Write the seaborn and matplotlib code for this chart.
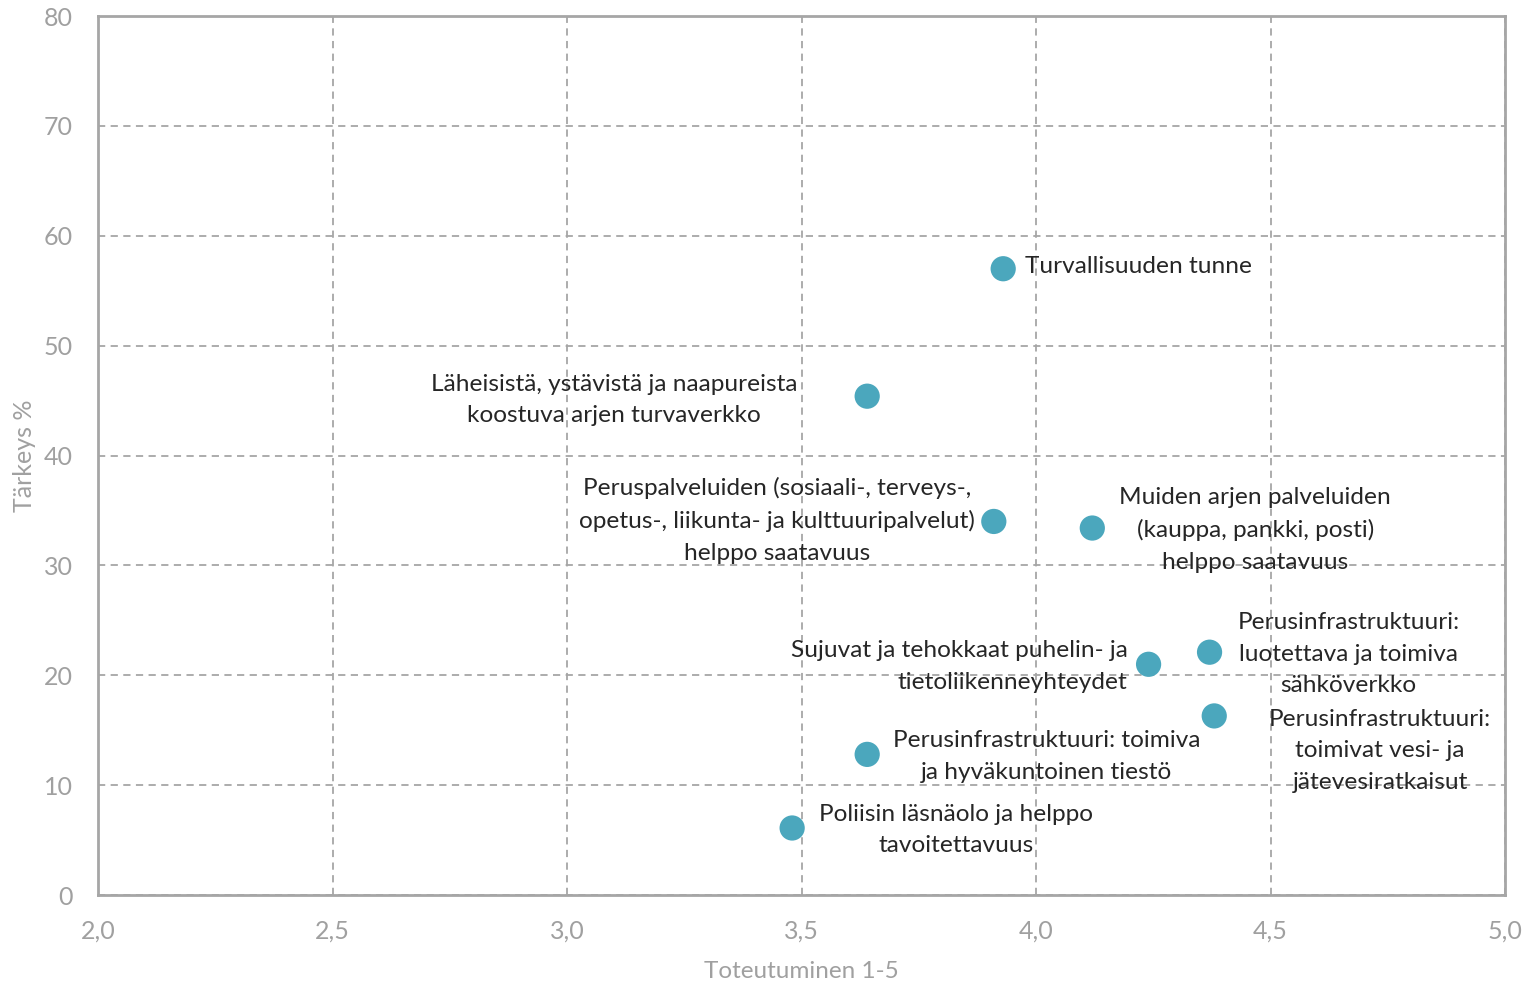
import pandas as pd
import matplotlib.pyplot as plt
import seaborn as sns

# arvot luettu kuvasta
toteutuminen = [3.93, 3.64, 3.91, 4.12, 4.37, 4.24, 4.38, 3.64, 3.48]
tarkeys = [57.0, 45.4, 34.0, 33.4, 22.1, 21.0, 16.3, 12.8, 6.1]
nimet = [
    "Turvallisuuden tunne",
    "Läheisistä, ystävistä ja naapureista\nkoostuva arjen turvaverkko",
    "Peruspalveluiden (sosiaali-, terveys-,\nopetus-, liikunta- ja kulttuuripalvelut)\nhelppo saatavuus",
    "Muiden arjen palveluiden\n(kauppa, pankki, posti)\nhelppo saatavuus",
    "Perusinfrastruktuuri:\nluotettava ja toimiva\nsähköverkko",
    "Sujuvat ja tehokkaat puhelin- ja\ntietoliikenneyhteydet",
    "Perusinfrastruktuuri:\ntoimivat vesi- ja\njätevesiratkaisut",
    "Perusinfrastruktuuri: toimiva\nja hyväkuntoinen tiestö",
    "Poliisin läsnäolo ja helppo\ntavoitettavuus",
]

df = pd.DataFrame({"Toteutuminen": toteutuminen, "Tarkeys": tarkeys, "Nimi": nimet})

# tekstien paikat pisteeseen nähden (pikseleinä) ja tasaus
sijainnit = [
    (22, 2, "left", "left"),
    (-70, -4, "right", "center"),
    (-19, 1, "right", "center"),
    (27, -2, "left", "center"),
    (28, -2, "left", "center"),
    (-21, -2, "right", "right"),
    (166, -35, "center", "center"),
    (26, -2, "left", "center"),
    (27, -2, "left", "center"),
]

sns.set_theme(style="white")
plt.rcParams["font.family"] = ["Lato", "DejaVu Sans"]

harmaa = "#A6A6A6"
fig = plt.figure(figsize=(15.27, 9.83), dpi=100)
ax = fig.add_axes([0.0642, 0.0895, 0.9214, 0.8942])

sns.scatterplot(
    data=df,
    x="Toteutuminen",
    y="Tarkeys",
    color="#4BA7BD",
    s=330,
    edgecolor="none",
    ax=ax,
    zorder=3,
)

for (x, y, nimi), (dx, dy, ha, ma) in zip(zip(toteutuminen, tarkeys, nimet), sijainnit):
    ax.annotate(
        nimi, (x, y),
        xytext=(dx * 0.72, dy * 0.72), textcoords="offset points",
        ha=ha, va="center", multialignment=ma,
        fontsize=17.6, color="#262626", linespacing=1.62, zorder=4,
    )

ax.set_xlim(2, 5)
ax.set_ylim(0, 80)
ax.set_xticks([2.0, 2.5, 3.0, 3.5, 4.0, 4.5, 5.0])
ax.set_xticklabels(["2,0", "2,5", "3,0", "3,5", "4,0", "4,5", "5,0"])
ax.set_yticks(range(0, 81, 10))

ax.grid(True, linestyle=(0, (4, 3)), color=harmaa, linewidth=1.3)
for sp in ax.spines.values():
    sp.set_color(harmaa)
    sp.set_linewidth(2)

ax.tick_params(axis="both", length=0, labelsize=18, labelcolor="#A0A0A0")
ax.tick_params(axis="y", pad=18)
ax.tick_params(axis="x", pad=18)

ax.set_xlabel("Toteutuminen 1-5", fontsize=17.5, color="#A0A0A0", labelpad=13)
ax.set_ylabel("Tärkeys %", fontsize=18, color="#A0A0A0", labelpad=6)

plt.savefig("out.png", dpi=100)
